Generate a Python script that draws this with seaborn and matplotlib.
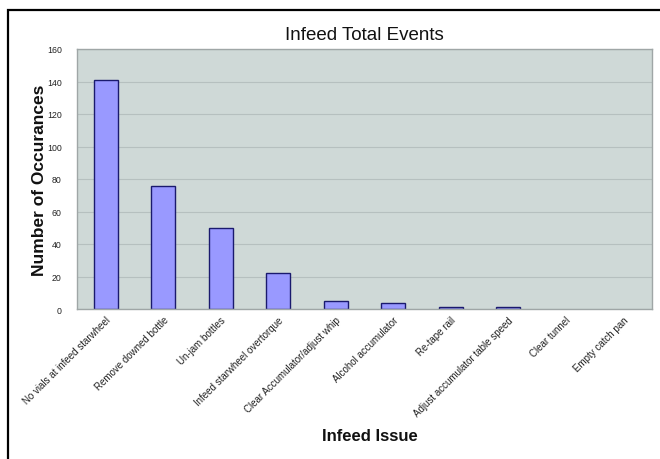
import matplotlib
matplotlib.use("Agg")
import matplotlib.pyplot as plt
import seaborn as sns
import pandas as pd
from matplotlib.patches import Rectangle

issues = [
    "No vials at infeed starwheel",
    "Remove downed bottle",
    "Un-jam bottles",
    "Infeed starwheel overtorque",
    "Clear Accumulator/adjust whip",
    "Alcohol accumulator",
    "Re-tape rail",
    "Adjust accumulator table speed",
    "Clear tunnel",
    "Empty catch pan",
]
occurrences = [141, 76, 50, 22, 5, 4, 1, 1, 0, 0]
y_ticks = [0, 20, 40, 60, 80, 100, 120, 140, 160]

df = pd.DataFrame({"issue": issues, "count": occurrences})

sns.set_theme(style="white")
plt.rcParams["font.family"] = ["Liberation Sans", "DejaVu Sans"]

fig = plt.figure(figsize=(6.6, 4.6), dpi=100)
ax = fig.add_axes([77 / 660, 1 - 310 / 460, 575 / 660, 260 / 460])
ax.set_facecolor("#CFD9D7")

sns.barplot(data=df, x="issue", y="count", ax=ax, color="#9999FF",
            edgecolor="#1A1A6E", linewidth=1.0, width=0.42, saturation=1)

# empty categories get no visible outline
for patch, val in zip(ax.patches, occurrences):
    if val == 0:
        patch.set_linewidth(0)

ax.set_ylim(0, 160)
ax.set_yticks(y_ticks)
ax.set_xlim(-0.5, len(issues) - 0.5)
ax.yaxis.grid(True, color="#B6C0BF", linewidth=0.8)
ax.set_axisbelow(True)
for s in ax.spines.values():
    s.set_color("#9FA6A6")
    s.set_linewidth(1.0)

ax.tick_params(axis="y", labelsize=6.3, length=0, pad=11, labelcolor="#222222")
ax.tick_params(axis="x", labelsize=7, length=0, pad=4, labelcolor="#222222")
ax.set_xticks(range(len(issues)))
ax.set_xticklabels(issues, rotation=45, ha="right", rotation_mode="anchor")

ax.set_title("Infeed Total Events", fontsize=13.5, pad=7, color="#111111")
ax.set_ylabel("Number of Occurances", fontsize=12.5, fontweight="bold",
              labelpad=0, color="#111111")
ax.set_xlabel("Infeed Issue", fontsize=12, fontweight="bold", color="#111111")
ax.xaxis.set_label_coords(0.51, -(429 - 310) / 260)

# page frame around the chart
fig.patches.append(Rectangle((8 / 660, -0.05), 1.1, 1 - 11 / 460 + 0.05,
                             transform=fig.transFigure, fill=False,
                             edgecolor="black", linewidth=1.6))

fig.savefig("out.png", dpi=100)
